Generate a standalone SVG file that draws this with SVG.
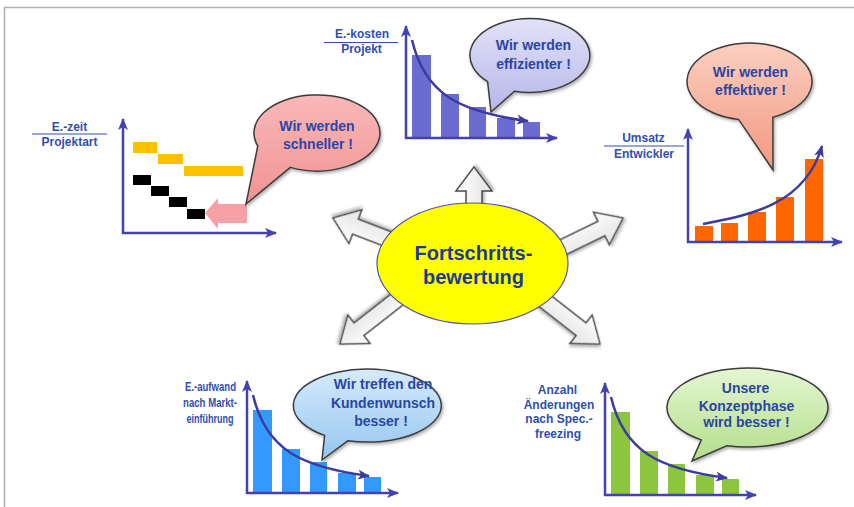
<svg xmlns="http://www.w3.org/2000/svg" width="854" height="507" viewBox="0 0 854 507">
  <style>
    .lbl{font-family:"Liberation Sans",Arial,sans-serif;font-weight:bold;font-size:12px;fill:#2f4fae;text-anchor:middle}
    .say{font-family:"Liberation Sans",Arial,sans-serif;font-weight:bold;font-size:14px;fill:#2a46a4;text-anchor:middle}
    .title{font-family:"Liberation Sans",Arial,sans-serif;font-weight:bold;font-size:20px;fill:#1d3a94;text-anchor:middle}
    .axis{stroke:#4242b2;stroke-width:2.5;fill:none;marker-end:url(#axisHead)}
    .trend{stroke:#3b3ba0;stroke-width:2.5;fill:none;marker-end:url(#trendHead)}
    .rule{stroke:#3050b0;stroke-width:1.2}
    .bubble{stroke:#3c3c3c;stroke-width:1.5;filter:url(#shadow)}
    .push{fill:url(#arrowFill);stroke:#4a4a4a;stroke-width:1.5;filter:url(#shadow)}
  </style>
  <defs>
    <marker id="axisHead" viewBox="0 0 12 10" refX="11" refY="5" markerWidth="12" markerHeight="10" markerUnits="userSpaceOnUse" orient="auto">
      <path d="M0,0 L12,5 L0,10 L3,5 Z" fill="#4242b2"/>
    </marker>
    <marker id="trendHead" viewBox="0 0 12 10" refX="11" refY="5" markerWidth="12" markerHeight="10" markerUnits="userSpaceOnUse" orient="auto">
      <path d="M0,0 L12,5 L0,10 L3,5 Z" fill="#3b3ba0"/>
    </marker>
    <filter id="shadow" x="-20%" y="-20%" width="140%" height="140%">
      <feDropShadow dx="1.5" dy="2" stdDeviation="1.5" flood-color="#000" flood-opacity="0.3"/>
    </filter>
    <linearGradient id="arrowFill" x1="0" y1="0" x2="0" y2="1">
      <stop offset="0" stop-color="#ffffff"/>
      <stop offset="1" stop-color="#e2e2e2"/>
    </linearGradient>
    <linearGradient id="pinkFill" x1="0" y1="0" x2="0" y2="1">
      <stop offset="0" stop-color="#f9b8b8"/>
      <stop offset="1" stop-color="#f19292"/>
    </linearGradient>
    <linearGradient id="lilacFill" x1="0" y1="0" x2="0" y2="1">
      <stop offset="0" stop-color="#e2e2f8"/>
      <stop offset="1" stop-color="#b6b6ea"/>
    </linearGradient>
    <linearGradient id="salmonFill" x1="0" y1="0" x2="0" y2="1">
      <stop offset="0" stop-color="#fbcfc0"/>
      <stop offset="1" stop-color="#f2987f"/>
    </linearGradient>
    <linearGradient id="skyFill" x1="0" y1="0" x2="0" y2="1">
      <stop offset="0" stop-color="#d6ebfc"/>
      <stop offset="1" stop-color="#94c5ef"/>
    </linearGradient>
    <linearGradient id="mintFill" x1="0" y1="0" x2="0" y2="1">
      <stop offset="0" stop-color="#e4f6d2"/>
      <stop offset="1" stop-color="#b2de8a"/>
    </linearGradient>
    <!-- block arrow pointing along +x, tail at origin -->
    <path id="blockArrow" d="M0,-8 H54 V-18 L78,0 L54,18 V8 H0 Z"/>
    <!-- falling bar chart, origin at the axis corner; bars take the fill of the use -->
    <g id="decayChart">
      <rect x="6" y="-83" width="19" height="83"/>
      <rect x="35" y="-44" width="18" height="44"/>
      <rect x="63" y="-31" width="17" height="31"/>
      <rect x="91" y="-20" width="18" height="20"/>
      <rect x="117" y="-16" width="17" height="16"/>
      <path class="axis" d="M0,1 V-112"/>
      <path class="axis" d="M-1,0 H151"/>
      <path class="trend" d="M6,-98 C19,-43 54,-26 122,-17"/>
    </g>
  </defs>

  <rect width="854" height="507" fill="#ffffff"/>
  <path d="M4.5,507 V7.5 H854" fill="none" stroke="#b0b0b0" stroke-width="1.5"/>

  <!-- connectors: block arrows radiating from the centre -->
  <g id="connectors">
    <use href="#blockArrow" class="push" transform="translate(474,167) rotate(-90) translate(-78,0)"/>
    <use href="#blockArrow" class="push" transform="translate(333,218) rotate(201) translate(-78,0)"/>
    <use href="#blockArrow" class="push" transform="translate(623,218) rotate(-26) translate(-78,0)"/>
    <use href="#blockArrow" class="push" transform="translate(340,344) rotate(142) translate(-78,0)"/>
    <use href="#blockArrow" class="push" transform="translate(600,344) rotate(38) translate(-78,0)"/>
  </g>

  <!-- centre -->
  <g id="center">
    <ellipse cx="472.5" cy="263.5" rx="95.5" ry="60.5" fill="#ffff00" stroke="#5050a8" stroke-width="1.2"/>
    <text class="title" x="473.5" y="260">Fortschritts-</text>
    <text class="title" x="473.5" y="284">bewertung</text>
  </g>

  <!-- development time per project type -->
  <g id="chart-zeit">
    <text class="lbl" x="69.5" y="131">E.-zeit</text>
    <line class="rule" x1="32" y1="134" x2="107" y2="134"/>
    <text class="lbl" x="69.5" y="146">Projektart</text>
    <g fill="#ffc000">
      <rect x="133" y="142" width="24" height="11"/>
      <rect x="158" y="154" width="25" height="10"/>
      <rect x="184" y="166" width="59" height="10"/>
    </g>
    <g fill="#000000">
      <rect x="133" y="175" width="18" height="10"/>
      <rect x="151" y="186" width="18" height="10"/>
      <rect x="169" y="197" width="18" height="10"/>
      <rect x="187" y="209" width="18" height="10"/>
    </g>
    <path d="M205,213 L218,198 L218,204 L247,204 L247,223 L218,223 L218,229 Z" fill="#f7a1a6"/>
    <path class="axis" d="M123,234 V119"/>
    <path class="axis" d="M122,233 H276"/>
  </g>
  <g id="bubble-schneller">
    <path class="bubble" fill="url(#pinkFill)" d="M257.8,146 A63,38 0 1 1 290.4,167.4 L246,204 Z"/>
    <text class="say" x="317" y="131">Wir werden</text>
    <text class="say" x="318" y="149">schneller !</text>
  </g>

  <!-- development cost per project -->
  <g id="chart-kosten">
    <text class="lbl" x="362" y="37.5">E.-kosten</text>
    <line class="rule" x1="324" y1="42.5" x2="398" y2="42.5"/>
    <text class="lbl" x="361.5" y="53">Projekt</text>
    <use href="#decayChart" fill="#6b6bd2" transform="translate(406,138)"/>
  </g>
  <g id="bubble-effizienter">
    <path class="bubble" fill="url(#lilacFill)" d="M487.6,81.7 A60,37 0 1 1 514.5,91.2 L491,112 Z"/>
    <text class="say" x="533.5" y="49.5">Wir werden</text>
    <text class="say" x="533.5" y="69">effizienter !</text>
  </g>

  <!-- revenue per developer -->
  <g id="chart-umsatz">
    <text class="lbl" x="643.5" y="142">Umsatz</text>
    <line class="rule" x1="604" y1="146" x2="684" y2="146"/>
    <text class="lbl" x="644" y="157.5">Entwickler</text>
    <g fill="#ff6600">
      <rect x="695" y="226" width="18" height="16"/>
      <rect x="721" y="223" width="17" height="19"/>
      <rect x="748" y="212" width="18" height="30"/>
      <rect x="776" y="197" width="18" height="45"/>
      <rect x="805" y="159" width="18" height="83"/>
    </g>
    <path class="axis" d="M688,243 V129"/>
    <path class="axis" d="M687,242 H842"/>
    <path class="trend" d="M703,224 C750,215 805,205 822,146"/>
  </g>
  <g id="bubble-effektiver">
    <path class="bubble" fill="url(#salmonFill)" d="M738.6,119.4 A62.5,38.5 0 1 1 772.9,117.2 L773,170 Z"/>
    <text class="say" x="750.5" y="77">Wir werden</text>
    <text class="say" x="750.5" y="95">effektiver !</text>
  </g>

  <!-- effort after market launch -->
  <g id="chart-aufwand">
    <text class="lbl" x="210.5" y="391" textLength="51" lengthAdjust="spacingAndGlyphs">E.-aufwand</text>
    <text class="lbl" x="210" y="407" textLength="54" lengthAdjust="spacingAndGlyphs">nach Markt-</text>
    <text class="lbl" x="210" y="423" textLength="47" lengthAdjust="spacingAndGlyphs">einführung</text>
    <use href="#decayChart" fill="#3399ff" transform="translate(247,493)"/>
  </g>
  <g id="bubble-kundenwunsch">
    <path class="bubble" fill="url(#skyFill)" d="M324.6,435.4 A74,36.5 0 1 1 347.8,440.8 L322,460 Z"/>
    <text class="say" x="383" y="389">Wir treffen den</text>
    <text class="say" x="383" y="408">Kundenwunsch</text>
    <text class="say" x="381" y="426">besser !</text>
  </g>

  <!-- changes after spec freezing -->
  <g id="chart-aenderungen">
    <text class="lbl" x="557.5" y="394">Anzahl</text>
    <text class="lbl" x="559" y="408.5">Änderungen</text>
    <text class="lbl" x="559" y="423">nach Spec.-</text>
    <text class="lbl" x="558" y="437.5">freezing</text>
    <use href="#decayChart" fill="#8cc63f" transform="translate(605,495)"/>
  </g>
  <g id="bubble-konzeptphase">
    <path class="bubble" fill="url(#mintFill)" d="M701.3,439.9 A80.5,39.5 0 1 1 726.7,445.7 L692,461 Z"/>
    <text class="say" x="745.5" y="393">Unsere</text>
    <text class="say" x="746.5" y="410.5">Konzeptphase</text>
    <text class="say" x="746.5" y="427">wird besser !</text>
  </g>
</svg>
